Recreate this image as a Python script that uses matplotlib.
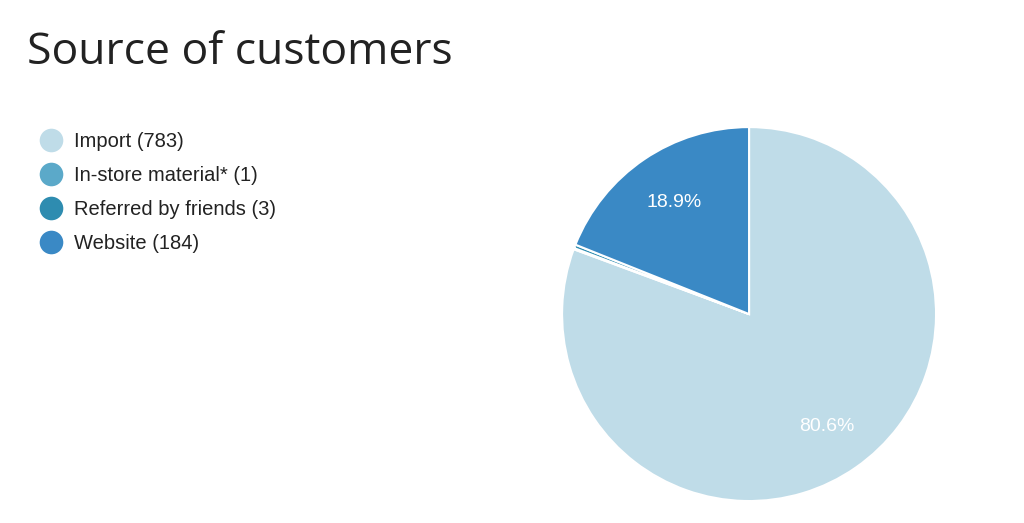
import numpy as np
import matplotlib.pyplot as plt
from matplotlib.lines import Line2D

plt.rcParams['font.family'] = ['Open Sans', 'DejaVu Sans']

labels = ['Import', 'In-store material*', 'Referred by friends', 'Website']
counts = [783, 1, 3, 184]
colors = ['#bfdce8', '#5ba9c9', '#2e8cb0', '#3a89c5']

fig = plt.figure(figsize=(10.24, 5.23), dpi=100)
fig.text(0.026, 0.90, 'Source of customers', fontsize=32, color='#222222', va='center')

ax = fig.add_axes([0.548, 0.040, 0.367, 0.719])
wedges, texts, autotexts = ax.pie(
    counts, colors=colors, startangle=90, counterclock=False,
    wedgeprops=dict(edgecolor='white', linewidth=1.5),
    autopct=lambda p: f'{p:.1f}%' if p > 5 else '', pctdistance=0.73,
    textprops=dict(color='white', fontsize=14, family='Liberation Sans'))
# website label sits a bit further round in the reference
a = np.deg2rad(124)
autotexts[3].set_position((0.72 * np.cos(a), 0.72 * np.sin(a)))
ax.set_xlim(-1.005, 1.005)
ax.set_ylim(-1.005, 1.005)
ax.set_aspect('equal')

handles = [Line2D([], [], marker='o', linestyle='', markersize=17,
                  markerfacecolor=c, markeredgecolor='none') for c in colors]
fig.legend(handles, [f'{l} ({n})' for l, n in zip(labels, counts)],
           loc='upper left', bbox_to_anchor=(0.012, 0.783), frameon=False,
           prop=dict(family='Liberation Sans', size=14.5), handletextpad=0.15,
           labelspacing=0.75, labelcolor='#222222')

fig.savefig('out.png', dpi=100)
